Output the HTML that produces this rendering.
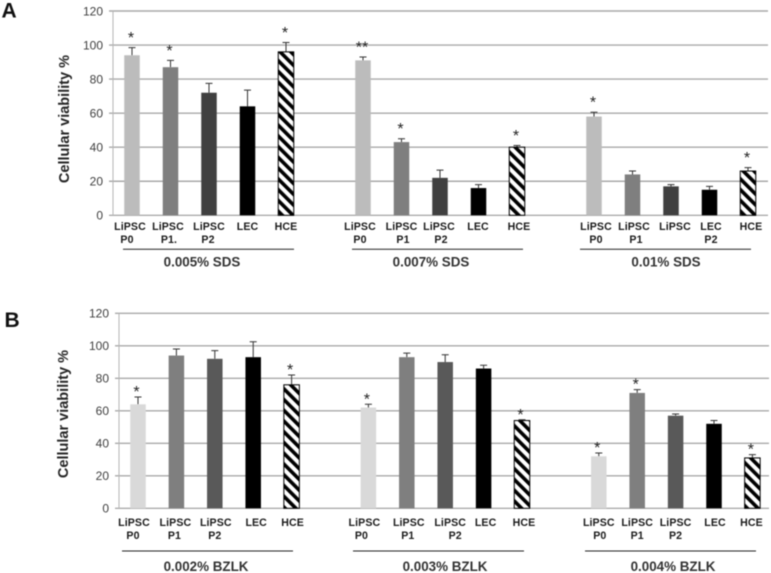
<!DOCTYPE html>
<html lang="en">
<head>
<meta charset="utf-8">
<title>Cellular viability charts</title>
<style>
html,body{margin:0;padding:0;background:#fff;width:771px;height:573px;overflow:hidden}
svg{display:block;filter:blur(0.5px)}
text{font-family:"Liberation Sans",sans-serif}
</style>
</head>
<body>
<svg id="chart" xmlns="http://www.w3.org/2000/svg" width="771" height="573" viewBox="0 0 771 573">
<defs>
<pattern id="hatch" patternUnits="userSpaceOnUse" width="7.6" height="7.6" patternTransform="rotate(-45)">
<rect width="7.6" height="7.6" fill="#fff"></rect>
<rect width="3.6" height="7.6" fill="#000"></rect>
</pattern>
</defs>
<rect width="771" height="573" fill="#fff"></rect>
</svg>
<script>
// Shared axis data
const yTicks = [0, 20, 40, 60, 80, 100, 120];

// Panel A data
const labelsA = [["LiPSC","P0"],["LiPSC","P1."],["LiPSC","P2"],["LEC"],["HCE"],["LiPSC","P0"],["LiPSC","P1"],["LiPSC","P2"],["LEC"],["HCE"],["LiPSC","P0"],["LiPSC","P1"],["LiPSC"],["LEC","P2"],["HCE"]];
const valuesA = [94, 87, 72, 64, 96, 91, 43, 22, 16, 40, 58, 24, 17, 15, 26];
const errorsA = [4.5, 4, 5.5, 9.5, 5.5, 2, 2, 4.5, 2, 1, 2.5, 2, 1, 2, 2];
const marksA = ["*","*","","","*","**","*","","","*","*","","","","*"];
const groupsA = ["0.005% SDS", "0.007% SDS", "0.01% SDS"];

// Panel B data
const labelsB = [["LiPSC","P0"],["LiPSC","P1"],["LiPSC","P2"],["LEC"],["HCE"],["LiPSC","P0"],["LiPSC","P1"],["LiPSC","P2"],["LEC"],["HCE"],["LiPSC","P0"],["LiPSC","P1"],["LiPSC","P2"],["LEC"],["HCE"]];
const valuesB = [64, 94, 92, 93, 76, 62, 93, 90, 86, 54, 32, 71, 57, 52, 31];
const errorsB = [4.5, 4, 5, 9.5, 6, 2, 2.5, 4.5, 2, 0.5, 2, 2, 1, 2, 2];
const marksB = ["*","","","","*","*","","","","*","*","*","","","*"];
const groupsB = ["0.002% BZLK", "0.003% BZLK", "0.004% BZLK"];

const SVGNS = "http://www.w3.org/2000/svg";
const root = document.getElementById("chart");

function make(tag, attrs, parent, txt) {
  const el = document.createElementNS(SVGNS, tag);
  for (const k in attrs) el.setAttribute(k, attrs[k]);
  if (txt !== undefined) el.textContent = txt;
  (parent || root).appendChild(el);
  return el;
}

function drawPanel(cfg) {
  const g = make("g", {});
  
  

  const yScale = v => cfg.y0 - (v / 120) * (cfg.y0 - cfg.y120);
  const xScale = i => cfg.x0 + cfg.step * (Math.floor(i / 5) * 6 + i % 5);

  // panel letter
  const letter = make("text", {x: cfg.letterX, y: cfg.letterY, "font-size": 21, "font-weight": "bold", fill: "#111"}, g, cfg.letter);
  
  

  // y axis title
  const title = make("text", {transform: `translate(${cfg.titleX},${cfg.titleY}) rotate(-90)`, "text-anchor": "middle", "font-size": 14.5, "font-weight": "bold", fill: "#262626"}, g, "Cellular viability %");
  
  

  // gridlines and y tick labels
  yTicks.forEach(t => {
    const y = yScale(t);
    const line = make("line", {x1: cfg.axisX - 4, x2: cfg.right, y1: y, y2: y, stroke: t === 0 ? "#9a9a9a" : "#a9a9a9", "stroke-width": t === 0 ? 1.2 : 1.4}, g);
    
    
    const lab = make("text", {x: cfg.axisX - 10, y: y + 4.3, "text-anchor": "end", "font-size": 12, fill: "#404040"}, g, String(t));
    
    
  });
  const yAxis = make("line", {x1: cfg.axisX, x2: cfg.axisX, y1: yScale(120), y2: yScale(0), stroke: "#b5b5b5", "stroke-width": 1}, g);
  
  

  // bars, error bars, significance marks, category labels
  cfg.values.forEach((v, i) => {
    const cx = xScale(i);
    const kind = i % 5;
    const top = yScale(v);
    const errTop = yScale(v + cfg.errors[i]);

    const err = make("path", {d: `M${cx} ${top}V${errTop}M${cx - 3.5} ${errTop}H${cx + 3.5}`, stroke: "#333", "stroke-width": 1, fill: "none"}, g);
    
    

    const attrs = {x: cx - cfg.barW / 2, y: top, width: cfg.barW, height: yScale(0) - top};
    if (kind === 4) {
      attrs.fill = "url(#hatch)";
      attrs.stroke = "#000";
      attrs["stroke-width"] = 1;
    } else {
      attrs.fill = cfg.colors[kind];
    }
    const bar = make("rect", attrs, g);
    
    

    if (cfg.marks[i]) {
      const star = make("text", {x: cx + cfg.starDx, y: yScale(v + cfg.errors[i] + cfg.starGap) + 9, "text-anchor": "middle", "font-size": 16, fill: "#222"}, g, cfg.marks[i]);
      
      
    }

    cfg.labels[i].forEach((line, n) => {
      const nudge = (n === 0 ? cfg.nudge1 : cfg.nudge2)[i];
      const t = make("text", {x: cx + nudge, y: cfg.labelY + n * 13, "text-anchor": "middle", "font-size": 10.6, "font-weight": "bold", "letter-spacing": 0.1, fill: "#1c1c1c"}, g, line);
      
      
    });
  });

  // group rules and titles
  cfg.groups.forEach((name, n) => {
    const rule = make("line", {x1: cfg.ruleX[n], x2: cfg.ruleX[n] + 171, y1: cfg.ruleY, y2: cfg.ruleY, stroke: "#222", "stroke-width": 1}, g);
    
    
    const t = make("text", {x: cfg.groupX[n], y: cfg.groupY, "text-anchor": "middle", "font-size": 13.4, "font-weight": "bold", fill: "#333"}, g, name);
    
    
  });
}

drawPanel({
  name: "panel-a", letter: "A", letterX: 1.5, letterY: 17.5,
  titleX: 69, titleY: 119,
  x0: 132, step: 38.5, barW: 15.5, axisX: 113, right: 768, y0: 215.3, y120: 11,
  labelY: 230, ruleX: [123, 352, 580], ruleY: 249.3, groupX: [202, 431, 666], groupY: 266.5,
  colors: ["#bcbcbc", "#7f7f7f", "#404040", "#000"],
  starGap: 8, starDx: -1,
  values: valuesA, errors: errorsA, marks: marksA, labels: labelsA, groups: groupsA,
  nudge1: [-2,-2.5,0,0,0,-3,0,-1,-0.5,2,2,1.5,4,1.5,3],
  nudge2: [-5,-1.5,-1,0,0,-3,1.5,1,0,0,2,3.5,0,1.5,0]
});

drawPanel({
  name: "panel-b", letter: "B", letterX: 4.5, letterY: 327,
  titleX: 68, titleY: 414,
  x0: 138, step: 38.4, barW: 15.5, axisX: 119, right: 769, y0: 508.3, y120: 313.3,
  labelY: 526, ruleX: [122, 353, 585], ruleY: 551, groupX: [206, 445, 673], groupY: 571,
  colors: ["#d9d9d9", "#7f7f7f", "#595959", "#000"],
  starGap: 5.5, starDx: -1.5,
  values: valuesB, errors: errorsB, marks: marksB, labels: labelsB, groups: groupsB,
  nudge1: [-4,-1,1,3,1,-4,2,5,2,2,0,0,0,1,-1],
  nudge2: [-5,-2,0,0,0,-7,1,10,0,0,1,0,0,0,0]
});
</script>
</body>
</html>
